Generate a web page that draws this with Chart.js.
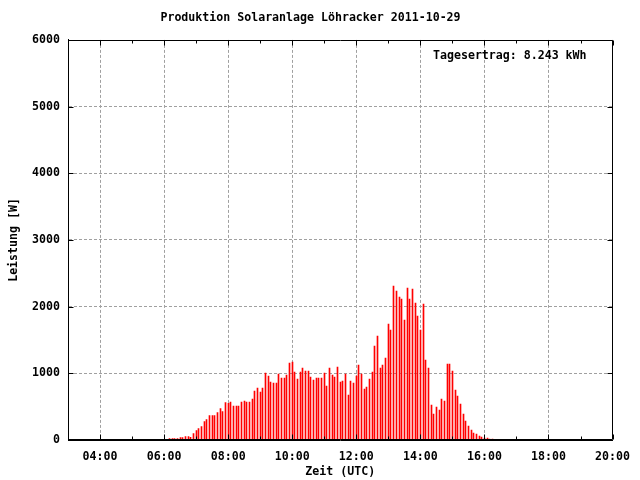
<!DOCTYPE html>
<html>
<head>
<meta charset="utf-8">
<script src="https://cdn.jsdelivr.net/npm/chart.js@4.4.0/dist/chart.umd.min.js"></script>
<style>
  html, body { margin: 0; padding: 0; background: #fff; }
  #wrap { width: 640px; height: 480px; }
</style>
</head>
<body>
<div id="wrap"><canvas id="chart" width="640" height="480"></canvas></div>
<script>
// 5-minute readings (UTC)
const times = [
  '06:10','06:15','06:20','06:25','06:30','06:35','06:40','06:45','06:50','06:55',
  '07:00','07:05','07:10','07:15','07:20','07:25','07:30','07:35','07:40','07:45','07:50','07:55',
  '08:00','08:05','08:10','08:15','08:20','08:25','08:30','08:35','08:40','08:45','08:50','08:55',
  '09:00','09:05','09:10','09:15','09:20','09:25','09:30','09:35','09:40','09:45','09:50','09:55',
  '10:00','10:05','10:10','10:15','10:20','10:25','10:30','10:35','10:40','10:45','10:50','10:55',
  '11:00','11:05','11:10','11:15','11:20','11:25','11:30','11:35','11:40','11:45','11:50','11:55',
  '12:00','12:05','12:10','12:15','12:20','12:25','12:30','12:35','12:40','12:45','12:50','12:55',
  '13:00','13:05','13:10','13:15','13:20','13:25','13:30','13:35','13:40','13:45','13:50','13:55',
  '14:00','14:05','14:10','14:15','14:20','14:25','14:30','14:35','14:40','14:45','14:50','14:55',
  '15:00','15:05','15:10','15:15','15:20','15:25','15:30','15:35','15:40','15:45','15:50','15:55',
  '16:00','16:05','16:10','16:15','16:20'
];
const power = [
  20, 20, 20, 20, 35, 35, 50, 50, 40, 95,
  140, 170, 200, 275, 305, 365, 365, 365, 410, 470, 425, 560,
  550, 570, 510, 510, 510, 570, 585, 570, 570, 615, 735, 780,
  720, 780, 1005, 960, 870, 855, 855, 990, 930, 930, 975, 1155,
  1170, 1020, 915, 1020, 1080, 1035, 1035, 945, 900, 930, 930, 930,
  1005, 810, 1080, 975, 945, 1095, 870, 885, 990, 675, 885, 855,
  960, 1125, 990, 765, 795, 915, 1020, 1410, 1560, 1080, 1125, 1230,
  1740, 1650, 2310, 2235, 2145, 2115, 1800, 2280, 2115, 2265, 2055, 1860,
  1650, 2040, 1200, 1080, 525, 390, 495, 450, 615, 585, 1140, 1140,
  1035, 750, 660, 540, 390, 285, 210, 150, 105, 90, 60, 45,
  30, 30, 15, 15, 10
];
const xTickLabels = ['04:00','06:00','08:00','10:00','12:00','14:00','16:00','18:00','20:00'];
const yTickLabels = ['0','1000','2000','3000','4000','5000','6000'];

const titleText = 'Produktion Solaranlage Löhracker 2011-10-29';
const yieldText = 'Tagesertrag: 8.243 kWh';

const FONT = '"DejaVu Sans Mono", "Liberation Mono", monospace';
const GRID = '#a0a0a0';

function toHour(t) {
  const p = t.split(':');
  return Number(p[0]) + Number(p[1]) / 60;
}

// impulses are 1px wide, snap them onto whole pixels like gnuplot does
const snapPlugin = {
  id: 'snap',
  beforeDatasetsDraw(chart) {
    chart.getDatasetMeta(0).data.forEach(el => {
      el.x = Math.round(el.x - 0.5) + 0.5;
    });
  }
};

// gnuplot style: closed frame, inward ticks, daily yield label
const framePlugin = {
  id: 'frame',
  afterDraw(chart) {
    const {ctx, chartArea: a, scales: {x, y}} = chart;
    const l = Math.round(a.left) + 0.5, r = Math.round(a.right) - 0.5;
    const t = Math.round(a.top) + 0.5, b = Math.round(a.bottom) - 0.5;
    ctx.save();
    ctx.strokeStyle = '#000';
    ctx.lineWidth = 1;
    ctx.beginPath();
    ctx.rect(l, t, r - l, b - t);
    x.ticks.forEach(tk => {
      const px = Math.round(x.getPixelForValue(tk.value)) + 0.5;
      const len = tk.value % 2 === 0 ? 5 : 3;
      ctx.moveTo(px, b); ctx.lineTo(px, b - len);
      ctx.moveTo(px, t); ctx.lineTo(px, t + len);
    });
    y.ticks.forEach(tk => {
      const py = Math.round(y.getPixelForValue(tk.value)) + 0.5;
      ctx.moveTo(l, py); ctx.lineTo(l + 5, py);
      ctx.moveTo(r, py); ctx.lineTo(r - 5, py);
    });
    ctx.stroke();
    ctx.fillStyle = '#000';
    ctx.font = 'bold 11.6px ' + FONT;
    ctx.textAlign = 'left';
    ctx.textBaseline = 'middle';
    ctx.fillText(yieldText, 433, 56);
    ctx.restore();
  }
};

new Chart(document.getElementById('chart'), {
  type: 'bar',
  data: {
    datasets: [{
      data: times.map((t, i) => ({x: toHour(t), y: power[i]})),
      backgroundColor: '#ff0000',
      borderWidth: 0,
      barThickness: 1,
      grouped: false
    }]
  },
  options: {
    responsive: false,
    animation: false,
    devicePixelRatio: 1,
    layout: {padding: {left: 0, right: 19, top: 0, bottom: 0}},
    plugins: {
      legend: {display: false},
      tooltip: {enabled: false},
      title: {
        display: true,
        text: titleText,
        color: '#000',
        font: {family: FONT, size: 11.6, weight: 'bold'},
        padding: {top: 11, bottom: 15}
      }
    },
    scales: {
      x: {
        type: 'linear',
        min: 3,
        max: 20,
        offset: false,
        afterFit(scale) { scale.height = 40; },
        grid: {
          offset: false,
          drawTicks: false,
          color: ctx => (ctx.tick && ctx.tick.value % 2 === 0) ? GRID : 'transparent'
        },
        border: {display: true, color: '#000', dash: [3, 2]},
        ticks: {
          stepSize: 1,
          autoSkip: false,
          maxRotation: 0,
          minRotation: 0,
          padding: 10,
          color: '#000',
          font: {family: FONT, size: 11.6, weight: 'bold'},
          callback: v => {
            const lab = xTickLabels.find(s => toHour(s) === v);
            return lab || '';
          }
        },
        title: {
          display: true,
          text: 'Zeit (UTC)',
          color: '#000',
          font: {family: FONT, size: 11.6, weight: 'bold'},
          padding: {top: 0, bottom: 1}
        }
      },
      y: {
        min: 0,
        max: 6000,
        afterFit(scale) { scale.width = 68; },
        grid: {
          drawTicks: false,
          color: ctx => (ctx.tick && (ctx.tick.value === 0 || ctx.tick.value === 6000)) ? 'transparent' : GRID
        },
        border: {display: true, color: '#000', dash: [3, 2]},
        ticks: {
          stepSize: 1000,
          padding: 8,
          color: '#000',
          font: {family: FONT, size: 11.6, weight: 'bold'},
          callback: v => yTickLabels.find(s => Number(s) === v) || ''
        },
        title: {
          display: true,
          text: 'Leistung [W]',
          color: '#000',
          font: {family: FONT, size: 11.6, weight: 'bold'},
          padding: {top: 7, bottom: 0}
        }
      }
    }
  },
  plugins: [snapPlugin, framePlugin]
});
</script>
</body>
</html>
